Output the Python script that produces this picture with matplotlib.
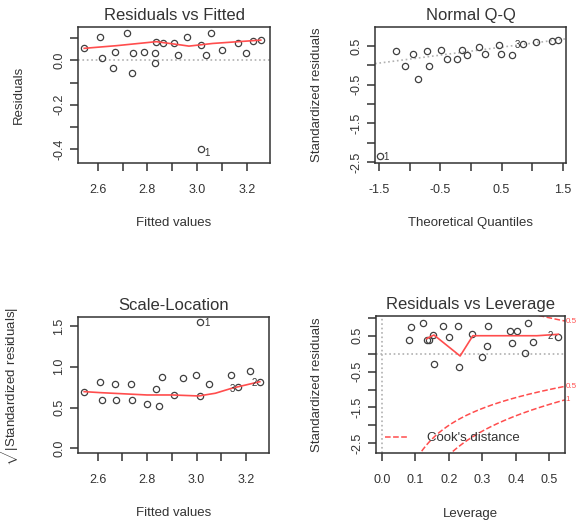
import numpy as np
import matplotlib.pyplot as plt
from matplotlib.lines import Line2D
from matplotlib.ticker import FixedLocator, FixedFormatter
import matplotlib.transforms as mtrans

plt.rcParams['font.family'] = ['Liberation Sans', 'DejaVu Sans']
plt.rcParams['mathtext.fontset'] = 'custom'
plt.rcParams['mathtext.rm'] = 'Liberation Sans'

# --- Residuals vs Fitted
fitted = [2.546, 2.609, 2.616, 2.662, 2.669, 2.720, 2.738, 2.742, 2.786, 2.832, 2.832, 2.836, 2.862,
          2.909, 2.923, 2.960, 3.016, 3.016, 3.036, 3.056, 3.102, 3.166, 3.198, 3.225, 3.256]
resid = [0.054, 0.106, 0.012, -0.036, 0.039, 0.121, -0.056, 0.031, 0.039, 0.031, -0.011, 0.084, 0.076,
         0.076, 0.024, 0.106, 0.069, -0.399, 0.024, 0.121, 0.046, 0.079, 0.031, 0.087, 0.091]
rf_smooth_x = [2.546, 2.676, 2.836, 2.936, 2.967, 3.063, 3.256]
rf_smooth_y = [0.054, 0.066, 0.084, 0.069, 0.064, 0.076, 0.091]

# --- Normal Q-Q
theo_q = [-1.489, -1.227, -1.080, -0.954, -0.862, -0.715, -0.682, -0.496, -0.398, -0.224, -0.152,
          -0.070, 0.136, 0.229, 0.463, 0.486, 0.666, 0.846, 1.063, 1.320, 1.428]
std_res = [-2.333, 0.359, -0.026, 0.300, -0.349, 0.359, -0.026, 0.403, 0.164, 0.164, 0.403,
           0.256, 0.462, 0.300, 0.513, 0.300, 0.256, 0.548, 0.590, 0.641, 0.659]
qq_line = (0.367, 0.205)  # intercept, slope

# --- Scale-Location
sl_x = [2.546, 2.609, 2.616, 2.669, 2.673, 2.736, 2.738, 2.800, 2.836, 2.849, 2.862, 2.909, 2.946,
        2.999, 3.016, 3.016, 3.052, 3.140, 3.166, 3.217, 3.256]
sl_y = [0.695, 0.817, 0.593, 0.789, 0.593, 0.789, 0.593, 0.544, 0.728, 0.519, 0.879, 0.654, 0.859,
        0.899, 1.553, 0.642, 0.789, 0.899, 0.748, 0.948, 0.817]
sl_smooth_x = [2.546, 2.609, 2.800, 2.902, 3.009, 3.076, 3.142, 3.256]
sl_smooth_y = [0.695, 0.683, 0.654, 0.654, 0.642, 0.675, 0.736, 0.817]

# --- Residuals vs Leverage
lev = [0.0815, 0.0866, 0.124, 0.134, 0.142, 0.154, 0.157, 0.182, 0.202, 0.227, 0.232, 0.269,
       0.298, 0.315, 0.316, 0.383, 0.403, 0.388, 0.428, 0.438, 0.451, 0.525]
lev_res = [0.38, 0.735, 0.846, 0.38, 0.38, 0.52, -0.287, 0.78, 0.47, 0.78, -0.36, 0.54,
           -0.08, 0.21, 0.78, 0.64, 0.64, 0.29, 0.03, 0.846, 0.33, 0.47]
lev_smooth_x = [0.134, 0.156, 0.234, 0.272, 0.463, 0.527]
lev_smooth_y = [0.42, 0.52, -0.065, 0.50, 0.50, 0.54]
cook_levels = [0.5, 1]
n_coef = 2

txt = '#333333'
pt_col = '#404040'
red = '#ff4d4d'
grey = '#b0b0b0'

fig = plt.figure(figsize=(5.78, 5.26), dpi=100)
W, H = 578, 526


def make_ax(x0, y0, x1, y1):
    return fig.add_axes([x0 / W, 1 - y1 / H, (x1 - x0) / W, (y1 - y0) / H])


def style(ax, title, xlab, ylab, xticks, xlabels, yticks, ylabels, ylab_x, xlab_y):
    ax.set_title(title, fontsize=12, color=txt, pad=5)
    for s in ax.spines.values():
        s.set_color('#333333')
        s.set_linewidth(1.1)
    ax.xaxis.set_major_locator(FixedLocator(xticks))
    ax.xaxis.set_major_formatter(FixedFormatter(xlabels))
    ax.yaxis.set_major_locator(FixedLocator(yticks))
    ax.yaxis.set_major_formatter(FixedFormatter(ylabels))
    ax.tick_params(direction='out', length=6, width=1.1, color='#333333', labelsize=9,
                   labelcolor=txt)
    ax.tick_params(axis='x', pad=9)
    ax.tick_params(axis='y', pad=3, labelrotation=90)
    for lab in ax.get_yticklabels():
        lab.set_va('center')
    ax.set_xlabel(xlab, fontsize=9.5, color=txt, va='center')
    ax.set_ylabel(ylab, fontsize=9.5, color=txt, va='center')
    ax.xaxis.set_label_coords(0.5, xlab_y)
    ax.yaxis.set_label_coords(ylab_x, 0.5)


def points(ax, x, y):
    ax.plot(x, y, 'o', ms=4.5, mfc='none', mec=pt_col, mew=0.9)


fit_ticks = [2.6, 2.7, 2.8, 2.9, 3.0, 3.1, 3.2]
fit_labels = ['2.6', '', '2.8', '', '3.0', '', '3.2']

# Residuals vs Fitted
ax1 = make_ax(78, 27, 270, 163)
ax1.axhline(0, color=grey, ls=':', lw=1.2)
points(ax1, fitted, resid)
ax1.plot(rf_smooth_x, rf_smooth_y, color=red, lw=1.2)
ax1.text(3.028, -0.417, '1', fontsize=7, color=txt, va='center')
ax1.set_xlim(2.521, 3.293)
ax1.set_ylim(-0.462, 0.150)
style(ax1, 'Residuals vs Fitted', 'Fitted values', 'Residuals',
      fit_ticks, fit_labels,
      [-0.4, -0.3, -0.2, -0.1, 0.0, 0.1], ['-0.4', '', '-0.2', '', '0.0', ''],
      -0.306, -0.439)

# Normal Q-Q
ax2 = make_ax(375, 27, 566, 163)
ax2.axline((0, qq_line[0]), slope=qq_line[1], color=grey, ls=':', lw=1.2)
points(ax2, theo_q, std_res)
ax2.text(-1.43, -2.37, '1', fontsize=7, color=txt, va='center')
ax2.text(0.80, 0.53, '3', fontsize=7, color=txt, va='center', ha='right')
ax2.set_xlim(-1.57, 1.555)
ax2.set_ylim(-2.52, 0.99)
style(ax2, 'Normal Q-Q', 'Theoretical Quantiles', 'Standardized residuals',
      [-1.5, -1.0, -0.5, 0.0, 0.5, 1.0, 1.5], ['-1.5', '', '-0.5', '', '0.5', '', '1.5'],
      [-2.5, -2.0, -1.5, -1.0, -0.5, 0.0, 0.5], ['-2.5', '', '-1.5', '', '-0.5', '', '0.5'],
      -0.305, -0.439)

# Scale-Location
ax3 = make_ax(78, 316.7, 269, 452.7)
points(ax3, sl_x, sl_y)
ax3.plot(sl_smooth_x, sl_smooth_y, color=red, lw=1.2)
ax3.text(3.030, 1.534, '1', fontsize=7, color=txt, va='center')
ax3.text(3.155, 0.724, '3', fontsize=7, color=txt, va='center', ha='right')
ax3.text(3.245, 0.805, '2', fontsize=7, color=txt, va='center', ha='right')
ax3.set_xlim(2.521, 3.293)
ax3.set_ylim(-0.054, 1.614)
style(ax3, 'Scale-Location', 'Fitted values',
      r'$\sqrt{|\mathrm{Standardized\ residuals}|}$',
      fit_ticks, fit_labels,
      [0.0, 0.5, 1.0, 1.5], ['0.0', '0.5', '1.0', '1.5'],
      -0.356, -0.441)

# Residuals vs Leverage
ax4 = make_ax(376, 316, 565, 452.7)
ax4.axhline(0, color=grey, ls=':', lw=1.2)
ax4.axvline(0, color=grey, ls=':', lw=1.2)
points(ax4, lev, lev_res)
ax4.plot(lev_smooth_x, lev_smooth_y, color=red, lw=1.2)
ax4.text(0.512, 0.50, '2', fontsize=7, color=txt, va='center', ha='right')
h = np.linspace(0.005, 0.547, 300)
trans = mtrans.blended_transform_factory(ax4.transAxes, ax4.transData)
for lvl in cook_levels:
    yy = np.sqrt(lvl * n_coef * (1 - h) / h)
    ax4.plot(h, yy, color=red, ls='--', lw=1.1)
    ax4.plot(h, -yy, color=red, ls='--', lw=1.1)
    lab = '0.5' if lvl == 0.5 else '1'
    yr = np.sqrt(lvl * n_coef * (1 - 0.547) / 0.547)
    for yv in (yr, -yr):
        if -2.76 < yv < 1.05:
            ax4.text(1.004, yv, lab, transform=trans, fontsize=5.8, color=red,
                     va='center', ha='left', clip_on=False)
ax4.set_xlim(-0.017, 0.547)
ax4.set_ylim(-2.76, 1.05)
ax4.legend(handles=[Line2D([], [], color=red, ls='--', lw=1.1)], labels=["Cook's distance"],
           loc='center left', bbox_to_anchor=(0.045, 0.106), frameon=False, fontsize=9.5,
           borderpad=0, borderaxespad=0, handlelength=1.8, handletextpad=1.4,
           labelcolor=txt)
style(ax4, 'Residuals vs Leverage', 'Leverage', 'Standardized residuals',
      [0.0, 0.1, 0.2, 0.3, 0.4, 0.5], ['0.0', '0.1', '0.2', '0.3', '0.4', '0.5'],
      [-2.5, -2.0, -1.5, -1.0, -0.5, 0.0, 0.5, 1.0], ['-2.5', '', '-1.5', '', '-0.5', '', '0.5', ''],
      -0.314, -0.446)

fig.savefig('out.png', dpi=100)
